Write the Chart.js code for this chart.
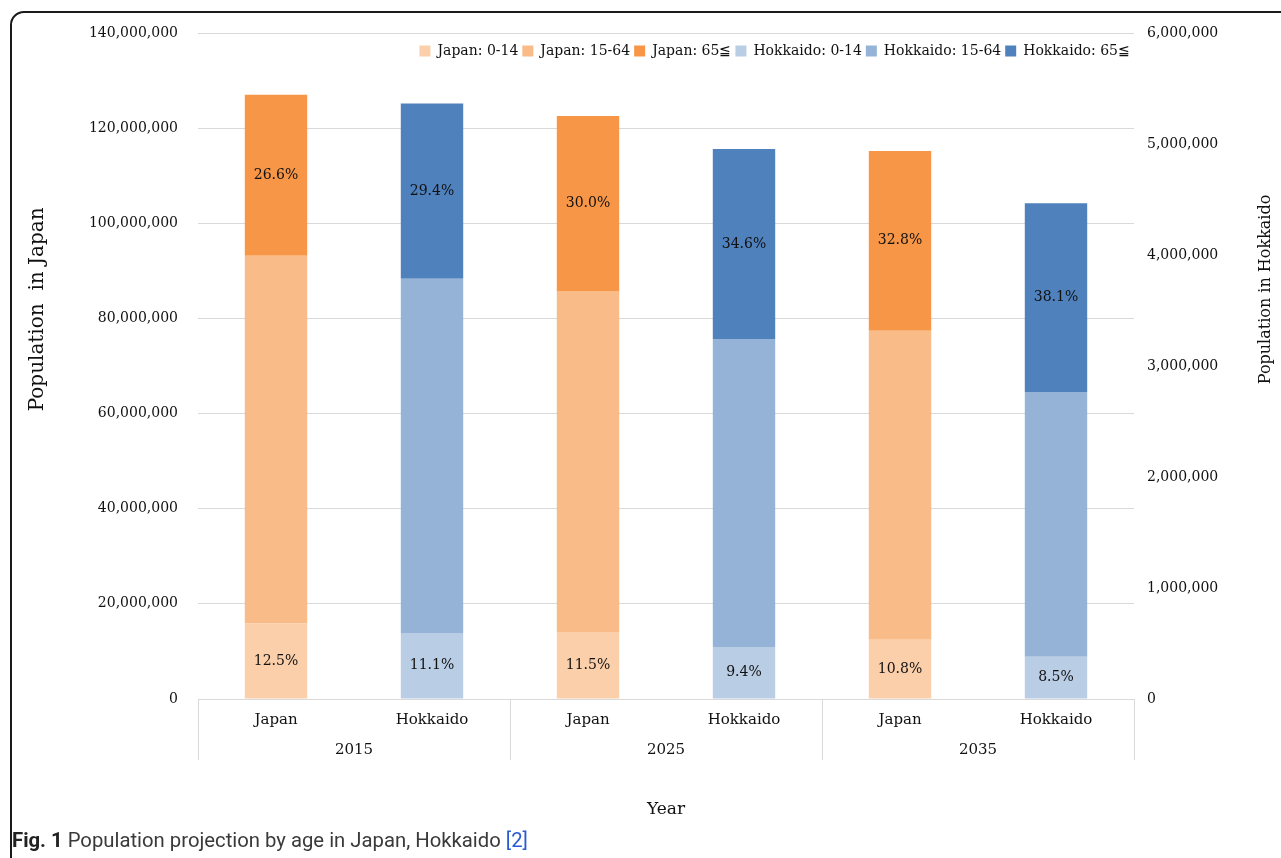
<!DOCTYPE html>
<html>
<head>
<meta charset="utf-8">
<script src="https://cdn.jsdelivr.net/npm/chart.js@4"></script>
<style>
  body { margin: 0; width: 1281px; height: 858px; overflow: hidden; position: relative; background: #fff; }
  .frame { position: absolute; left: 10px; top: 11px; width: 1300px; height: 900px;
           border: 2px solid #1a1a1a; border-radius: 14px; box-sizing: border-box; }
  #chart { position: absolute; left: 0; top: 0; }
  .caption { position: absolute; left: 12px; top: 828px; font-family: Roboto, sans-serif; font-size: 20.3px;
             color: #3a3a3a; white-space: nowrap; }
  .caption b { color: #222; }
  .caption span { color: #2a5ad8; }
</style>
</head>
<body>
<div class="frame"></div>
<canvas id="chart" width="1281" height="830"></canvas>
<div class="caption"><b>Fig. 1</b> Population projection by age in Japan, Hokkaido <span>[2]</span></div>
<script>
// 分類與年份
const categories = ['Japan', 'Hokkaido', 'Japan', 'Hokkaido', 'Japan', 'Hokkaido'];
const years = ['2015', '2025', '2035'];

// 全國人口（2015 / 2025 / 2035）
const japan0_14 = [15890000, 14070000, 12460000];
const japan15_64 = [77280000, 71700000, 64940000];
const japan65 = [33870000, 36770000, 37820000];

// 北海道人口（2015 / 2025 / 2035）
const hokkaido0_14 = [595000, 468000, 380000];
const hokkaido15_64 = [3190000, 2775000, 2386000];
const hokkaido65 = [1580000, 1712000, 1700000];

// 標籤百分比
const japanYoungPct = ['12.5%', '11.5%', '10.8%'];
const japanOldPct = ['26.6%', '30.0%', '32.8%'];
const hokkaidoYoungPct = ['11.1%', '9.4%', '8.5%'];
const hokkaidoOldPct = ['29.4%', '34.6%', '38.1%'];

const FONT = 'DejaVu Serif';
const GRID = '#d9d9d9';

// 把三年資料放到對應的欄位（Japan = 0,2,4；Hokkaido = 1,3,5）
function spread(values, offset) {
  const out = categories.map(() => null);
  values.forEach((v, i) => { out[i * 2 + offset] = v; });
  return out;
}

// 圖例移到繪圖區內（右上）
const legendInside = {
  id: 'legendInside',
  afterLayout(chart) {
    const lg = chart.legend, area = chart.chartArea;
    const h = lg.bottom - lg.top;
    lg.top = area.top + 7;
    lg.bottom = lg.top + h;
    lg.left = area.left;
    lg.right = area.right;
  }
};

// 長條中央寫百分比
const pctLabels = {
  id: 'pctLabels',
  afterDatasetsDraw(chart) {
    const ctx = chart.ctx;
    ctx.save();
    ctx.font = `14px "${FONT}"`;
    ctx.fillStyle = '#111';
    ctx.textAlign = 'center';
    ctx.textBaseline = 'middle';
    chart.data.datasets.forEach((ds, di) => {
      if (!ds.pct) return;
      chart.getDatasetMeta(di).data.forEach((bar, i) => {
        if (ds.data[i] == null) return;
        ctx.fillText(ds.pct[i], bar.x, (bar.y + bar.base) / 2);
      });
    });
    ctx.restore();
  }
};

// 年份分隔線與兩側 Y 軸標題
const extras = {
  id: 'extras',
  afterDraw(chart) {
    const ctx = chart.ctx;
    const x = chart.scales.x, x2 = chart.scales.x2;
    const area = chart.chartArea;
    ctx.save();
    ctx.strokeStyle = GRID;
    ctx.lineWidth = 1;
    const step = (x.right - x.left) / years.length;
    for (let k = 0; k <= years.length; k++) {
      const px = Math.round(x.left + k * step) + 0.5;
      ctx.beginPath();
      ctx.moveTo(px, x.top);
      ctx.lineTo(px, x2.top + 31);
      ctx.stroke();
    }
    ctx.fillStyle = '#111';
    ctx.textAlign = 'center';
    ctx.textBaseline = 'middle';
    ctx.font = `20px "${FONT}"`;
    ctx.translate(38, area.top + (area.bottom - area.top) * 0.415);
    ctx.rotate(-Math.PI / 2);
    ctx.fillText('Population  in Japan', 0, 0);
    ctx.restore();

    ctx.save();
    ctx.fillStyle = '#111';
    ctx.textAlign = 'center';
    ctx.textBaseline = 'middle';
    ctx.font = `16px "${FONT}"`;
    ctx.translate(1266, area.top + (area.bottom - area.top) * 0.385);
    ctx.rotate(-Math.PI / 2);
    ctx.fillText('Population in Hokkaido', 0, 0);
    ctx.restore();
  }
};

const fmt = v => Number(v).toLocaleString('en-US');

new Chart(document.getElementById('chart'), {
  type: 'bar',
  data: {
    labels: categories,
    datasets: [
      { label: 'Japan: 0-14', data: spread(japan0_14, 0), backgroundColor: '#FBCFAA', yAxisID: 'y', pct: spread(japanYoungPct, 0) },
      { label: 'Japan: 15-64', data: spread(japan15_64, 0), backgroundColor: '#F9BB88', yAxisID: 'y' },
      { label: 'Japan: 65≦', data: spread(japan65, 0), backgroundColor: '#F79646', yAxisID: 'y', pct: spread(japanOldPct, 0) },
      { label: 'Hokkaido: 0-14', data: spread(hokkaido0_14, 1), backgroundColor: '#B9CDE5', yAxisID: 'y2', pct: spread(hokkaidoYoungPct, 1) },
      { label: 'Hokkaido: 15-64', data: spread(hokkaido15_64, 1), backgroundColor: '#95B3D7', yAxisID: 'y2' },
      { label: 'Hokkaido: 65≦', data: spread(hokkaido65, 1), backgroundColor: '#4F81BD', yAxisID: 'y2', pct: spread(hokkaidoOldPct, 1) }
    ]
  },
  options: {
    responsive: false,
    animation: false,
    barPercentage: 0.4,
    categoryPercentage: 1,
    layout: { padding: { top: 5, left: 0, right: 0, bottom: 0 } },
    font: { family: FONT },
    plugins: {
      legend: {
        position: 'top',
        align: 'end',
        fullSize: false,
        labels: {
          font: { family: FONT, size: 14 },
          color: '#111',
          boxWidth: 11,
          boxHeight: 11,
          padding: 4
        }
      },
      tooltip: { enabled: false }
    },
    scales: {
      x: {
        stacked: true,
        position: 'bottom',
        weight: 0,
        grid: { display: false, drawTicks: false },
        border: { display: true, color: GRID },
        ticks: { font: { family: FONT, size: 15 }, color: '#111', padding: 12, maxRotation: 0 },
        afterFit(s) { s.height = 30; }
      },
      x2: {
        type: 'category',
        labels: years,
        position: 'bottom',
        weight: 1,
        grid: { display: false, drawTicks: false },
        border: { display: false },
        ticks: { font: { family: FONT, size: 15 }, color: '#111', padding: 12, maxRotation: 0 },
        title: { display: true, text: 'Year', font: { family: FONT, size: 17 }, color: '#111', padding: { top: 0, bottom: 10 } },
        afterFit(s) { s.height = 101; }
      },
      y: {
        stacked: true,
        position: 'left',
        min: 0,
        max: 140000000,
        ticks: { stepSize: 20000000, font: { family: FONT, size: 14 }, color: '#111', padding: 20, callback: fmt },
        grid: { color: GRID, drawTicks: false },
        border: { display: false },
        afterFit(s) { s.width = 198; }
      },
      y2: {
        stacked: true,
        position: 'right',
        min: 0,
        max: 6000000,
        ticks: { stepSize: 1000000, font: { family: FONT, size: 14 }, color: '#111', padding: 13, callback: fmt },
        grid: { drawOnChartArea: false, drawTicks: false },
        border: { display: false },
        afterFit(s) { s.width = 147; }
      }
    }
  },
  plugins: [legendInside, pctLabels, extras]
});
</script>
</body>
</html>
